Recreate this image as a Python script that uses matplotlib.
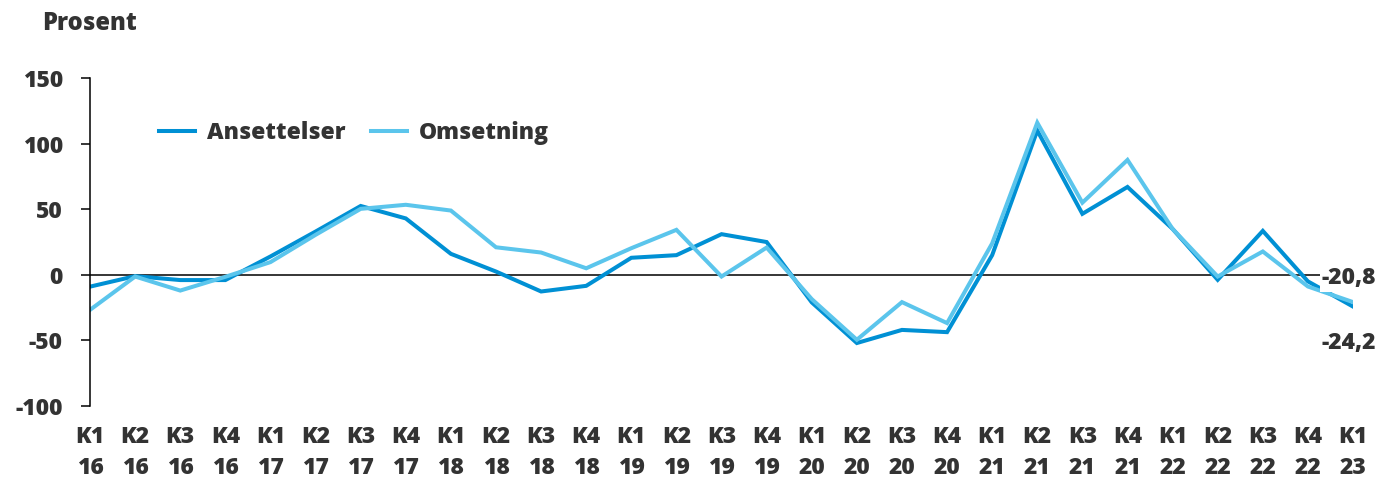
import matplotlib.pyplot as plt
import numpy as np

plt.rcParams['font.family'] = ['Open Sans', 'DejaVu Sans']
plt.rcParams['font.weight'] = 800
plt.rcParams['axes.unicode_minus'] = False

# kvartaler K1 16 - K1 23
quarters = ['K1', 'K2', 'K3', 'K4'] * 7 + ['K1']
years = ['16'] * 4 + ['17'] * 4 + ['18'] * 4 + ['19'] * 4 + ['20'] * 4 + ['21'] * 4 + ['22'] * 4 + ['23']
labels = [q + '\n' + y for q, y in zip(quarters, years)]

ansettelser = [-9, -1, -4, -4, 14, 33, 52.5, 43, 16, 2.5, -12.7, -8.4, 13, 15, 31, 25,
               -21, -52, -42, -43.7, 15, 110, 46.5, 67, 35, -3.8, 33.5, -5, -24.2]
omsetning = [-26.7, -1.3, -12, -1.5, 9.7, 30.5, 50.3, 53.4, 49, 21, 17, 5, 20.3, 34.3, -1.3, 20.8,
             -18.5, -49.5, -20.8, -36.8, 24, 116, 55, 87.6, 35, -1.3, 17.8, -8.9, -20.8]

dark = '#0090D4'
light = '#5BC5EC'
txt = '#333333'
fs = 16.5

fig = plt.figure(figsize=(13.94, 4.82), dpi=100)
ax = fig.add_axes([0.0646, 0.1577, 0.906, 0.6803])

x = np.arange(len(labels))
ax.plot(x, ansettelser, color=dark, lw=2.9, label='Ansettelser', solid_joinstyle='miter')
ax.plot(x, omsetning, color=light, lw=2.9, label='Omsetning', solid_joinstyle='miter')
ax.axhline(0, color='black', lw=1.1, zorder=0)

ax.set_xlim(0, len(labels) - 1)
ax.set_ylim(-100, 150)
ax.set_yticks([-100, -50, 0, 50, 100, 150])
ax.set_xticks(x)
ax.set_xticklabels(labels, linespacing=1.35)

for s in ['top', 'right', 'bottom']:
    ax.spines[s].set_visible(False)
ax.spines['left'].set_linewidth(1.1)
ax.tick_params(axis='y', length=6.5, width=1.1, pad=13, labelsize=fs, labelcolor=txt)
ax.tick_params(axis='x', length=0, pad=14, labelsize=fs, labelcolor=txt)

leg = ax.legend(loc='center left', bbox_to_anchor=(0.038, 0.832), ncol=2, frameon=False,
                fontsize=fs, handlelength=1.6, columnspacing=1.1, handletextpad=0.5)
for t in leg.get_texts():
    t.set_color(txt)

box = dict(facecolor='white', edgecolor='none', pad=1)
ax.annotate(f'{omsetning[-1]:.1f}'.replace('.', ','), xy=(x[-1], omsetning[-1]),
            xytext=(-23, 17), textcoords='offset points', ha='left', va='center',
            fontsize=fs, color=txt, bbox=box, zorder=5)
ax.annotate(f'{ansettelser[-1]:.1f}'.replace('.', ','), xy=(x[-1], ansettelser[-1]),
            xytext=(-23, -26), textcoords='offset points', ha='left', va='center',
            fontsize=fs, color=txt, zorder=5)

fig.text(0.03, 0.952, 'Prosent', fontsize=fs + 0.5, color=txt, va='center')

fig.savefig('out.png', dpi=100)
